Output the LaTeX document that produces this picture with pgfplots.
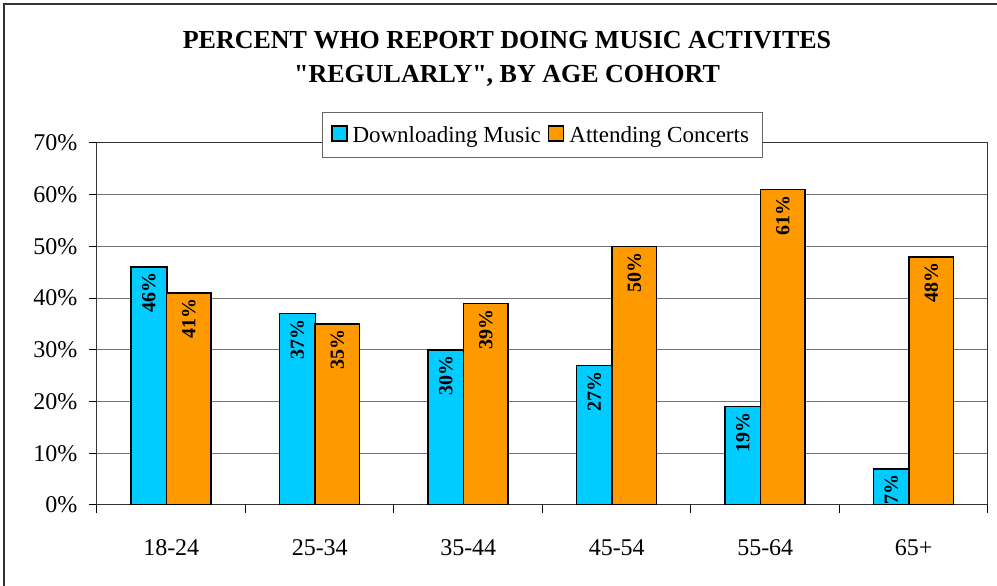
\documentclass[border=0pt]{standalone}
\usepackage{fontspec}
\setmainfont{Liberation Serif}[Ligatures=TeXOff]
\usepackage{pgfplots}
\pgfplotsset{compat=1.18}
\definecolor{dlcyan}{HTML}{00CCFF}
\definecolor{conorange}{HTML}{FF9900}
\begin{document}
\begin{tikzpicture}
\begin{axis}[
  at={(97pt,81pt)}, anchor=origin,
  scale only axis, width=891pt, height=362pt,
  ybar, ymin=0, ymax=70, xmin=0, xmax=6,
  /pgf/number format/assume math mode=true,
  ytick={0,10,...,70},
  yticklabel={\pgfmathprintnumber{\tick}\%},
  xtick={0.5,1.5,...,5.5},
  xticklabels={18-24,25-34,35-44,45-54,55-64,65+},
  major x tick style={draw=none},
  minor xtick={0,1,...,6},
  xtick pos=bottom, ytick pos=left,
  tick align=outside, major tick length=8pt, minor tick length=8pt,
  tick style={black, line width=1pt},
  ymajorgrids, grid style={black!55, line width=1pt},
  axis line style={black!80, line width=1pt},
  tick label style={font=\fontsize{24}{28}\selectfont},
  xticklabel style={yshift=-23pt},
  yticklabel style={xshift=-8pt},
  nodes near coords={\pgfmathprintnumber{\pgfplotspointmeta}\%},
  every node near coord/.append style={rotate=90, anchor=east,
    font=\fontsize{20}{22}\selectfont\bfseries, inner sep=5pt, black},
  legend style={at={(0.5,1.022)}, anchor=center, legend columns=2,
    draw=black!60, line width=1pt, fill=white, inner xsep=9pt, inner ysep=8pt,
    nodes={inner xsep=5pt, inner ysep=6pt},
    font=\fontsize{23}{26}\selectfont,
    /tikz/every even column/.append style={column sep=2pt}},
  legend image code/.code={\draw[#1, draw=black, line width=1.5pt] (0pt,-6pt) rectangle (15pt,9pt);},
]
\addplot[fill=dlcyan, draw=black, line width=1.5pt, bar width=36pt, bar shift=-22.4pt]
  coordinates {(0.5,46) (1.5,37) (2.5,30) (3.5,27) (4.5,19) (5.5,7)};
\addplot[fill=conorange, draw=black, line width=1.5pt, bar width=44.7pt, bar shift=17.6pt]
  coordinates {(0.5,41) (1.5,35) (2.5,39) (3.5,50) (4.5,61) (5.5,48)};
\legend{Downloading Music, Attending Concerts}
\end{axis}
\node[font=\fontsize{26}{34}\selectfont\bfseries, align=center] at (507pt,527pt)
  {PERCENT WHO REPORT DOING MUSIC ACTIVITES\\"REGULARLY", BY AGE COHORT};
\draw[line width=1.5pt, black!80] (4pt,-20pt) rectangle (1020pt,582pt);
\pgfresetboundingbox
\path[use as bounding box] (0pt,0pt) rectangle (997pt,586pt);
\end{tikzpicture}
\end{document}
